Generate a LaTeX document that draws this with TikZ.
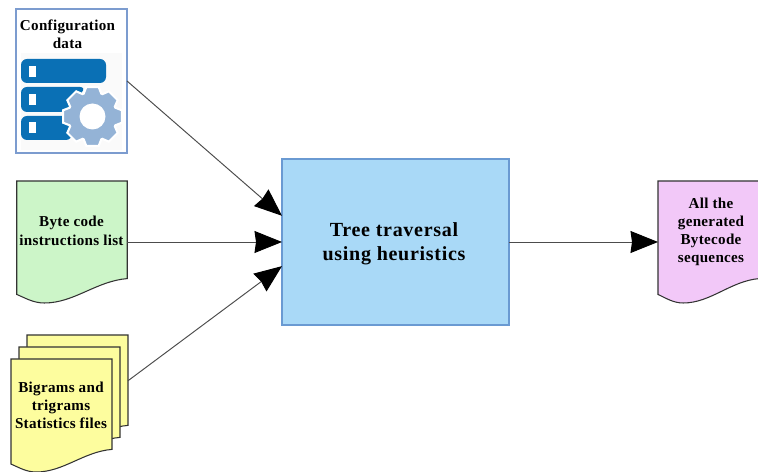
\documentclass[tikz,border=0pt]{standalone}
\usepackage{fontspec}
\setmainfont{Liberation Serif}
\usetikzlibrary{arrows.meta, positioning}
\definecolor{confline}{HTML}{7C9CCF}
\definecolor{serverblue}{HTML}{0A70B5}
\definecolor{gearblue}{HTML}{94B3D6}
\definecolor{bytegreen}{HTML}{CCF5C8}
\definecolor{statyellow}{HTML}{FDFD9E}
\definecolor{seqpurple}{HTML}{F2C8F8}
\definecolor{treeblue}{HTML}{A9D9F7}
\definecolor{treeline}{HTML}{6A9AD2}
\tikzset{
  >={Stealth[black, length=0.55cm, width=0.44cm, inset=0.03cm]},
  pagebox/.style={minimum width=#1*0.02cm, outer sep=0, inner sep=0},
  doctext/.style={font=\fontsize{8.6}{10.2}\selectfont\bfseries\addfontfeatures{LetterSpace=2}, align=center, inner sep=0},
  treetext/.style={font=\fontsize{11.4}{13.7}\selectfont\bfseries\addfontfeatures{LetterSpace=3.5}, align=center, inner sep=0},
  conn/.style={->, draw=black!70, line width=0.55pt},
  serverbar/.style={fill=serverblue, rounded corners=0.12cm},
}
% name, centre x, centre y, width, height, colour
\newcommand{\docpage}[6]{
  \begin{scope}[shift={(#2,#3)}, x=#4*0.02cm, y=#5*0.02cm]
    \draw[draw=black!80, line width=0.6pt, fill=#6] (-0.5,0.5) -- (0.5,0.5) -- (0.5,-0.3)
      .. controls (0.22,-0.32) and (0.02,-0.5) .. (-0.25,-0.5)
      .. controls (-0.35,-0.5) and (-0.42,-0.46) .. (-0.5,-0.43) -- cycle;
  \end{scope}
  \node[pagebox=#4, minimum height=#5*0.02cm] (#1) at (#2,#3) {};
}
\begin{document}
\begin{tikzpicture}[x=0.02cm, y=-0.02cm]
    \useasboundingbox (0,0) rectangle (758,472);

    \node[pagebox=111, minimum height=144*0.02cm, draw=confline, line width=0.7pt, fill=white] (Sconf) at (71.5,81) {};
    \fill[black!2] (21,53) rectangle (122,150);
    \fill[serverbar] (21,59) rectangle (106,83);
    \fill[serverbar] (21,87) -- (86,87) -- (66,112) -- (21,112) -- cycle;
    \fill[serverbar] (21,116) rectangle (72,140);
    \foreach \y in {66,94,122}
      \fill[white] (29,\y) rectangle (36,\y+11);
    \begin{scope}[shift={(92.5,116.5)}]
      \filldraw[fill=gearblue, draw=white, line width=1.2pt] (-21:24.5)
        \foreach \a in {0,45,...,315} {
          -- ({\a-21}:24.5) -- ({\a-12}:30) -- ({\a+12}:30) -- ({\a+21}:24.5)
        } -- cycle;
      \fill[white] (0,0) circle (13);
    \end{scope}
    \node[doctext] (Tconf) at (67.5,34) {Configuration\\data};

    \docpage{Sbyte}{72}{242}{110.5}{122}{bytegreen}
    \node[doctext] (Tbyte) at (71.5,231) {Byte code\\[1pt]instructions list};

    \docpage{Sstat3}{77.5}{391.5}{101}{113}{statyellow}
    \docpage{Sstat2}{69.5}{403.5}{101}{113}{statyellow}
    \docpage{Sstat1}{61.5}{415.5}{101}{113}{statyellow}
    \node[doctext] (Tstat) at (61,405) {Bigrams and\\trigrams\\Statistics files};

    \node[pagebox=227, minimum height=166*0.02cm, draw=treeline, line width=0.7pt, fill=treeblue] (Stree) at (395.5,242) {};
    \node[treetext] (Ttree) at (394,244) {Tree traversal\\using heuristics};

    \docpage{Sseq}{708.5}{242}{101}{122}{seqpurple}
    \node[doctext] (Tseq) at (711,232) {All the\\generated\\Bytecode\\sequences};

    \draw[conn] (Sconf.east) -- (Stree.167.6);
    \draw[conn] (Sbyte.east) -- (Stree.west);
    \draw[conn] (Sstat3.12.8) -- (Stree.192.4);
    \draw[conn] (Stree.east) -- (Sseq.west);
\end{tikzpicture}
\end{document}
